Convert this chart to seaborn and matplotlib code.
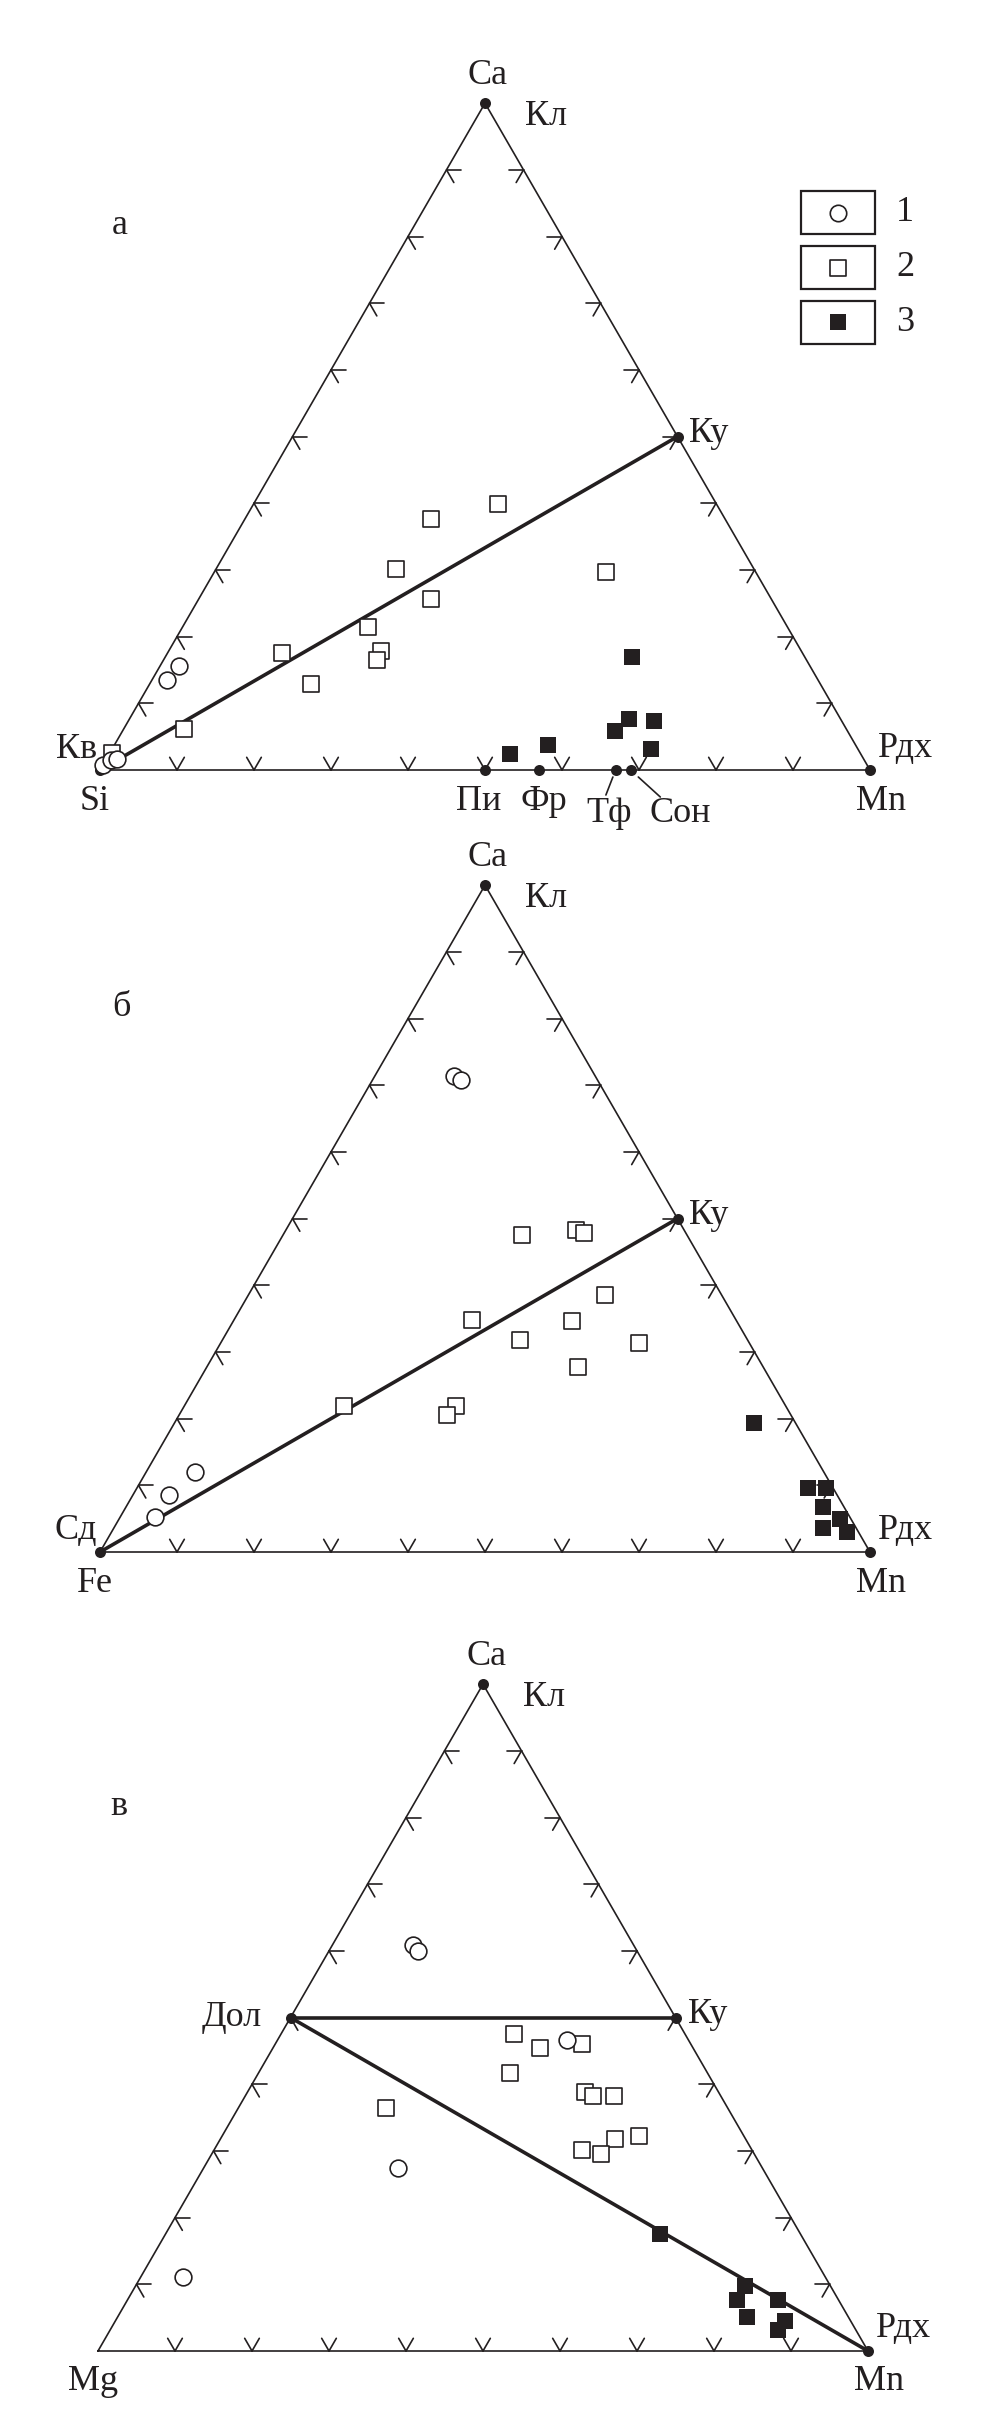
import numpy as np
import pandas as pd
import matplotlib
matplotlib.use("Agg")
import matplotlib.pyplot as plt
from matplotlib.patches import Rectangle
import seaborn as sns

# compositions in %: Ca and Mn; the third corner (Si / Fe / Mg) is the rest
# panel а : Si - Mn - Ca
a_circ_ca = [0.8, 1.5, 1.6, 13.5, 15.6]
a_circ_mn = [0.0, 0.7, 1.4, 2.0, 2.5]
a_sq_ca = [2.5, 6.2, 17.5, 12.9, 21.5, 17.8, 16.5, 30.1, 25.7, 37.7, 39.9, 29.7]
a_sq_mn = [0.3, 7.8, 14.9, 20.9, 24.1, 27.6, 27.7, 23.4, 30.1, 24.1, 31.7, 50.9]
a_fill_ca = [2.4, 3.8, 16.9, 7.7, 5.8, 7.4, 3.1]
a_fill_mn = [52.1, 56.3, 60.7, 64.9, 64.0, 68.2, 70.0]

# panel б : Fe - Mn - Ca
b_circ_ca = [71.4, 70.8, 12.0, 8.6, 5.2]
b_circ_mn = [10.3, 11.5, 6.3, 4.7, 4.5]
b_sq_ca = [47.6, 48.3, 47.8, 38.6, 34.8, 34.6, 31.8, 31.3, 27.7, 21.9, 21.9, 20.6]
b_sq_mn = [31.0, 37.7, 39.0, 46.3, 30.9, 44.0, 38.6, 54.4, 48.2, 20.7, 35.3, 34.7]
b_fill_ca = [19.3, 9.6, 9.6, 6.7, 4.9, 3.6, 3.0]
b_fill_mn = [75.3, 87.2, 89.5, 90.6, 93.7, 92.1, 95.5]

# panel в : Mg - Mn - Ca
c_circ_ca = [60.9, 60.0, 46.6, 27.4, 11.1]
c_circ_mn = [10.5, 11.6, 37.6, 25.2, 5.5]
c_sq_ca = [47.6, 45.5, 46.1, 41.7, 38.8, 38.2, 38.2, 36.4, 32.3, 31.8, 30.1, 29.5]
c_sq_mn = [30.2, 34.7, 39.8, 32.6, 43.9, 45.2, 47.9, 19.2, 54.1, 51.3, 47.8, 50.6]
c_fill_ca = [17.5, 9.8, 7.7, 7.7, 5.1, 4.5, 3.1]
c_fill_mn = [64.3, 79.1, 79.2, 84.4, 81.7, 87.0, 86.8]

# mineral end-members (Ca %, Mn %)
a_minerals = {"Кв": (0, 0), "Ку": (50, 50), "Рдх": (0, 100), "Пи": (0, 50),
              "Фр": (0, 57), "Тф": (0, 67), "Сон": (0, 69)}
b_minerals = {"Сд": (0, 0), "Ку": (50, 50), "Рдх": (0, 100)}
c_minerals = {"Дол": (50, 0), "Ку": (50, 50), "Рдх": (0, 100)}

INK = "#231f20"
H3 = np.sqrt(3) / 2
W, HGT = 1005, 2427
S = 770.0  # triangle side in pixels

sns.set_theme(style="white")
plt.rcParams["font.family"] = ["Liberation Serif", "DejaVu Serif"]
FS = 26


def tern(ca, mn):
    ca = np.asarray(ca, float) / 100
    mn = np.asarray(mn, float) / 100
    return mn + ca / 2, ca * H3


def make_axes(fig, band, left, base):
    top, bot = band
    ax = fig.add_axes([0, 1 - bot / HGT, 1, (bot - top) / HGT])
    ax.set_xlim(-left / S, (W - left) / S)
    ax.set_ylim((base - bot) / S, (base - top) / S)
    ax.axis("off")
    return ax


def px(dx, dy):
    # pixel offset (y down) -> data offset
    return dx / S, -dy / S


def draw_frame(ax):
    ax.plot([0, 1, 0.5, 0], [0, 0, H3, 0], color=INK, lw=1.2, zorder=1)
    t = 0.019
    for k in range(1, 10):
        f = k / 10
        segs = [
            ((f / 2, f * H3), [(1, 0), (0.5, -H3)]),
            ((1 - f / 2, f * H3), [(-1, 0), (-0.5, -H3)]),
            ((f, 0), [(-0.5, H3), (0.5, H3)]),
        ]
        for (x0, y0), dirs in segs:
            for dx, dy in dirs:
                ax.plot([x0, x0 + t * dx], [y0, y0 + t * dy], color=INK, lw=1.2, zorder=1)


def draw_points(ax, circ, sq, fill):
    df_sq = pd.DataFrame(dict(zip(["x", "y"], tern(*sq))))
    df_c = pd.DataFrame(dict(zip(["x", "y"], tern(*circ))))
    df_f = pd.DataFrame(dict(zip(["x", "y"], tern(*fill))))
    sns.scatterplot(data=df_sq, x="x", y="y", marker="s", s=140, color=INK,
                    facecolor="white", edgecolor=INK, linewidth=1.2, ax=ax,
                    legend=False, zorder=4)
    sns.scatterplot(data=df_c, x="x", y="y", marker="o", s=145, color=INK,
                    facecolor="white", edgecolor=INK, linewidth=1.2, ax=ax,
                    legend=False, zorder=5)
    sns.scatterplot(data=df_f, x="x", y="y", marker="s", s=136, color=INK,
                    linewidth=0, ax=ax, legend=False, zorder=6)
    ax.set_xlabel("")
    ax.set_ylabel("")


def dots(ax, pts):
    xs, ys = tern([p[0] for p in pts], [p[1] for p in pts])
    ax.scatter(xs, ys, s=63, color=INK, linewidth=0, zorder=3)


def join(ax, p, q):
    x, y = tern([p[0], q[0]], [p[1], q[1]])
    ax.plot(x, y, color=INK, lw=2.6, solid_capstyle="butt", zorder=2)


def label(ax, x, y, s, ha="center", va="center"):
    ax.text(x, y, s, fontsize=FS, color=INK, ha=ha, va=va, clip_on=False, zorder=7)


def corner_labels(ax, letter, left_name, left_mineral):
    ox, oy = px(3, -28)
    label(ax, 0.5 + ox, H3 + oy, "Ca")
    ox, oy = px(40, 13)
    label(ax, 0.5 + ox, H3 + oy, "Кл", ha="left")
    ox, oy = px(11, 31)
    label(ax, 1 + ox, oy, "Mn")
    ox, oy = px(8, -22)
    label(ax, 1 + ox, oy, "Рдх", ha="left")
    ox, oy = px(-5, 31)
    label(ax, ox, oy, left_name)
    if left_mineral:
        ox, oy = px(-3, -21)
        label(ax, ox, oy, left_mineral, ha="right")
    ox, oy = px(12, 122)
    label(ax, ox, H3 + oy, letter, ha="left")
    kx, ky = tern(50, 50)
    ox, oy = px(12, -3)
    label(ax, kx + ox, ky + oy, "Ку", ha="left")


fig = plt.figure(figsize=(W / 100, HGT / 100), dpi=100)

# ---------- а ----------
ax = make_axes(fig, (0, 830), 100, 770)
draw_frame(ax)
join(ax, a_minerals["Кв"], a_minerals["Ку"])
dots(ax, [(100, 0)] + list(a_minerals.values()))
draw_points(ax, (a_circ_ca, a_circ_mn), (a_sq_ca, a_sq_mn), (a_fill_ca, a_fill_mn))
corner_labels(ax, "а", "Si", "Кв")
for name, (dx, dy) in {"Пи": (-6, 32), "Фр": (5, 32), "Тф": (-7, 44), "Сон": (49, 44)}.items():
    mx, my = tern(*a_minerals[name])
    ox, oy = px(dx, dy)
    label(ax, mx + ox, my + oy, name)
for name, (p0, p1) in {"Тф": ((-3, 7), (-10, 25)), "Сон": ((7, 7), (29, 27))}.items():
    mx, my = tern(*a_minerals[name])
    x0, y0 = px(*p0)
    x1, y1 = px(*p1)
    ax.plot([mx + x0, mx + x1], [my + y0, my + y1], color=INK, lw=1.2, zorder=2)

# legend boxes
for i, (mk, fc) in enumerate([("o", "white"), ("s", "white"), ("s", INK)]):
    bx, by = px(801 - 100, 191 + 55 * i - 770)
    bw, bh = 74 / S, 43 / S
    ax.add_patch(Rectangle((bx, by - bh), bw, bh, fill=False, edgecolor=INK,
                           lw=1.6, clip_on=False, zorder=3))
    ax.scatter([bx + bw / 2], [by - bh / 2], marker=mk, s=140, facecolor=fc,
               edgecolor=INK, linewidth=1.2 if fc == "white" else 0, zorder=4,
               clip_on=False)
    label(ax, bx + bw + 30 / S, by - bh / 2, str(i + 1))

# ---------- б ----------
ax = make_axes(fig, (830, 1620), 100, 1552)
draw_frame(ax)
join(ax, b_minerals["Сд"], b_minerals["Ку"])
dots(ax, [(100, 0)] + list(b_minerals.values()))
draw_points(ax, (b_circ_ca, b_circ_mn), (b_sq_ca, b_sq_mn), (b_fill_ca, b_fill_mn))
corner_labels(ax, "б", "Fe", "Сд")

# ---------- в ----------
ax = make_axes(fig, (1620, 2427), 98, 2351)
draw_frame(ax)
join(ax, c_minerals["Дол"], c_minerals["Ку"])
join(ax, c_minerals["Дол"], c_minerals["Рдх"])
dots(ax, [(100, 0)] + list(c_minerals.values()))
draw_points(ax, (c_circ_ca, c_circ_mn), (c_sq_ca, c_sq_mn), (c_fill_ca, c_fill_mn))
corner_labels(ax, "в", "Mg", None)
dx_, dy_ = tern(*c_minerals["Дол"])
ox, oy = px(-29, 0)
label(ax, dx_ + ox, dy_ + oy, "Дол", ha="right")

fig.savefig("out.png", dpi=100, facecolor="white")
